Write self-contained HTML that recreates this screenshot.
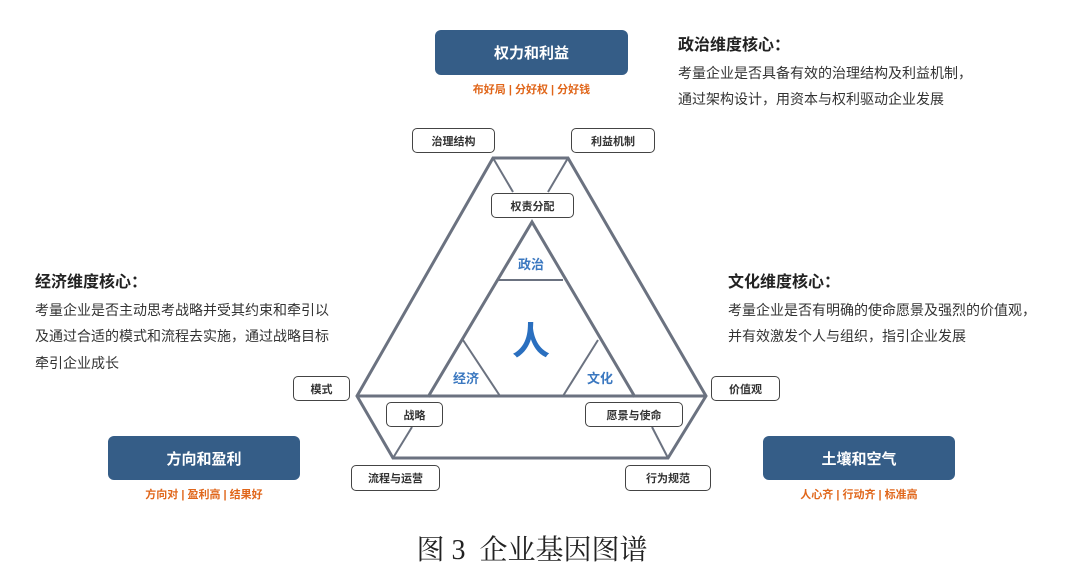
<!DOCTYPE html>
<html><head><meta charset="utf-8"><style>
body{margin:0;width:1080px;height:578px;background:#fff;position:relative;overflow:hidden;font-family:"Liberation Sans","Noto Sans CJK SC",sans-serif}
.b{position:absolute;border:1.5px solid #444;border-radius:5px;background:#fff;font-size:11px;font-weight:bold;color:#333;display:flex;align-items:center;justify-content:center;box-sizing:border-box}
.d{position:absolute;background:#355d87;border-radius:6px;color:#fff;font-size:15px;font-weight:bold;display:flex;align-items:center;justify-content:center}
.o{position:absolute;color:#e0661a;font-size:11px;font-weight:bold;text-align:center}
.t{position:absolute;color:#333;font-size:14px;line-height:26.5px}
.t b{font-size:16px;color:#222}
</style></head><body>
<svg width="1080" height="578" style="position:absolute;left:0;top:0">
<g stroke="#6b7280" stroke-width="3" fill="none">
<polygon points="493,158 568,158 706,396 668,458 393,458 357,396"/>
<line x1="357" y1="396" x2="706" y2="396"/>
<polyline points="428,397 532,222 635,397"/>
</g>
<g stroke="#6b7280" stroke-width="2" fill="none">
<line x1="493" y1="158" x2="513" y2="192"/><line x1="568" y1="158" x2="548" y2="192"/>
<line x1="393" y1="458" x2="412" y2="427"/><line x1="668" y1="458" x2="652" y2="427"/>
<line x1="498" y1="280" x2="563" y2="280"/>
<line x1="463" y1="340" x2="500" y2="396"/><line x1="598" y1="340" x2="563" y2="396"/>
</g>
<g fill="#3b78c0" font-weight="bold" font-family="Liberation Sans,Noto Sans CJK SC,sans-serif">
<text x="531" y="269" font-size="13" text-anchor="middle">政治</text>
<text x="466" y="383" font-size="13" text-anchor="middle">经济</text>
<text x="600" y="383" font-size="13" text-anchor="middle">文化</text>
<text x="531" y="354" font-size="38" text-anchor="middle" fill="#2a6fbf">人</text>
</g>
</svg>
<div class="b" style="left:412px;top:128px;width:83px;height:25px">治理结构</div>
<div class="b" style="left:571px;top:128px;width:84px;height:25px">利益机制</div>
<div class="b" style="left:491px;top:193px;width:83px;height:25px">权责分配</div>
<div class="b" style="left:386px;top:402px;width:57px;height:25px">战略</div>
<div class="b" style="left:585px;top:402px;width:98px;height:25px">愿景与使命</div>
<div class="b" style="left:351px;top:465px;width:89px;height:26px">流程与运营</div>
<div class="b" style="left:625px;top:465px;width:86px;height:26px">行为规范</div>
<div class="b" style="left:293px;top:376px;width:57px;height:25px">模式</div>
<div class="b" style="left:711px;top:376px;width:69px;height:25px">价值观</div>
<div class="d" style="left:435px;top:30px;width:193px;height:45px">权力和利益</div>
<div class="d" style="left:108px;top:436px;width:192px;height:44px">方向和盈利</div>
<div class="d" style="left:763px;top:436px;width:192px;height:44px">土壤和空气</div>
<div class="o" style="left:435px;top:81px;width:193px">布好局 | 分好权 | 分好钱</div>
<div class="o" style="left:108px;top:486px;width:192px">方向对 | 盈利高 | 结果好</div>
<div class="o" style="left:763px;top:486px;width:192px">人心齐 | 行动齐 | 标准高</div>
<div class="t" style="left:678px;top:32px"><b>政治维度核心：</b><br>考量企业是否具备有效的治理结构及利益机制，<br>通过架构设计，用资本与权利驱动企业发展</div>
<div class="t" style="left:35px;top:269px"><b>经济维度核心：</b><br>考量企业是否主动思考战略并受其约束和牵引以<br>及通过合适的模式和流程去实施，通过战略目标<br>牵引企业成长</div>
<div class="t" style="left:728px;top:269px"><b>文化维度核心：</b><br>考量企业是否有明确的使命愿景及强烈的价值观，<br>并有效激发个人与组织，指引企业发展</div>
<div style="position:absolute;left:0;width:1064px;top:528px;text-align:center;font-family:'Liberation Serif','Noto Serif CJK SC',serif;font-size:28px;color:#222">图 3&nbsp;&nbsp;企业基因图谱</div>
</body></html>
